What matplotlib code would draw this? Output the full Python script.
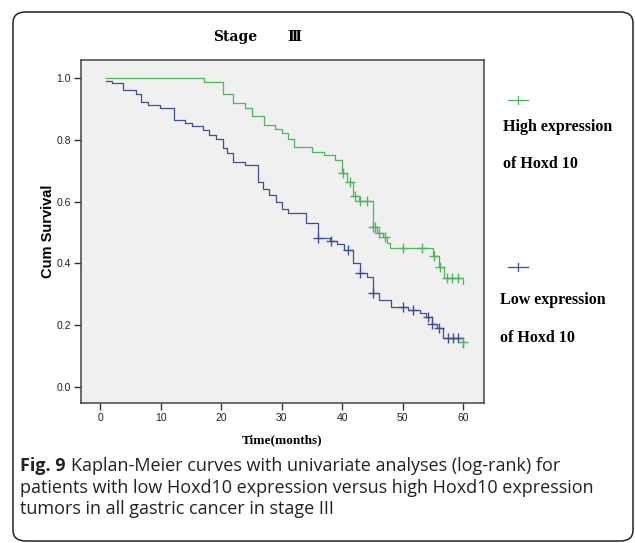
import matplotlib.pyplot as plt
from matplotlib.patches import FancyBboxPatch
from matplotlib.lines import Line2D

# survival steps (time in months, cum survival after the step)
high_time = [1.0, 17.1, 20.2, 22.0, 23.9, 25.1, 27.1, 28.9, 30.0, 31.1, 32.0, 35.0,
             36.9, 38.8, 39.9, 40.8, 41.7, 42.7, 45.0, 45.8, 46.7, 47.4, 47.9, 55.0,
             55.9, 56.8, 60.0]
high_surv = [1.0, 0.988, 0.948, 0.919, 0.903, 0.876, 0.849, 0.836, 0.822, 0.803, 0.776, 0.762,
             0.751, 0.735, 0.692, 0.663, 0.619, 0.603, 0.517, 0.499, 0.484, 0.465, 0.451, 0.425,
             0.389, 0.352, 0.333]
high_censor = [40.1, 41.2, 42.1, 43.0, 44.0, 45.0, 45.4, 46.1, 47.0, 50.1, 53.1, 55.1,
               56.1, 57.3, 58.1, 59.2]

low_time = [1.0, 1.9, 3.8, 5.9, 6.8, 7.9, 9.9, 12.1, 14.0, 15.1, 17.0, 17.9, 19.2, 20.3,
            20.9, 22.0, 23.9, 26.1, 26.9, 27.9, 29.0, 30.0, 31.1, 34.0, 36.0, 38.0, 39.1,
            40.2, 41.8, 43.0, 44.0, 45.0, 46.0, 48.0, 50.9, 52.8, 53.8, 54.8, 55.6, 56.7, 60.0]
low_surv = [0.992, 0.984, 0.962, 0.948, 0.924, 0.913, 0.903, 0.865, 0.854, 0.846, 0.832, 0.816,
            0.803, 0.773, 0.757, 0.728, 0.717, 0.665, 0.641, 0.622, 0.600, 0.575, 0.562, 0.532,
            0.481, 0.473, 0.462, 0.442, 0.402, 0.368, 0.357, 0.303, 0.282, 0.259, 0.249, 0.238,
            0.227, 0.202, 0.189, 0.157, 0.128]
low_censor = [36.0, 38.1, 41.0, 43.0, 45.0, 50.1, 51.7, 54.2, 54.8, 56.0, 57.4, 58.3, 59.2]

# odd green mark sitting on the end of the low curve
extra_mark_t = [60.0]
extra_mark_s = [0.145]

x_ticks = [0, 10, 20, 30, 40, 50, 60]
y_ticks = [0.0, 0.2, 0.4, 0.6, 0.8, 1.0]

green = '#4cb85c'
blue = '#3d4f95'

W, H = 635, 543


def fx(px):
    return px / W


def fy(py):
    return 1 - py / H


def surv_at(times, survs, t):
    s = survs[0]
    for tt, ss in zip(times, survs):
        if tt <= t:
            s = ss
    return s


fig = plt.figure(figsize=(6.35, 5.43), dpi=100)
fig.patch.set_facecolor('white')

# rounded frame around the whole panel
box = FancyBboxPatch((fx(13), fy(541)), fx(633) - fx(13), fy(12) - fy(541),
                     boxstyle='round,pad=0,rounding_size=0.02',
                     transform=fig.transFigure, fill=False, edgecolor='#222222', linewidth=1.1)
fig.add_artist(box)

ax = fig.add_axes([fx(80.7), fy(403.3), fx(484) - fx(80.7), fy(60) - fy(403.3)])
ax.set_facecolor('#f0f0f0')

ax.step(high_time, high_surv, where='post', color=green, lw=0.9)
ax.step(low_time, low_surv, where='post', color=blue, lw=0.9)
ax.plot(high_censor, [surv_at(high_time, high_surv, t) for t in high_censor], '+',
        color=green, ms=7, mew=1.0, ls='none')
ax.plot(low_censor, [surv_at(low_time, low_surv, t) for t in low_censor], '+',
        color=blue, ms=7, mew=1.0, ls='none')
ax.plot(extra_mark_t, extra_mark_s, '+', color=green, ms=7, mew=1.0, ls='none')

ax.set_xlim(-3.24, 63.42)
ax.set_ylim(-0.054, 1.059)
ax.set_xticks(x_ticks)
ax.set_yticks(y_ticks)
ax.set_yticklabels(['%.1f' % v for v in y_ticks])
ax.tick_params(direction='out', length=5, width=1, color='#333333',
               labelsize=7.5, labelcolor='#222222', pad=2)
for lab in ax.get_xticklabels() + ax.get_yticklabels():
    lab.set_family('Liberation Sans')
for sp in ax.spines.values():
    sp.set_color('#444444')
    sp.set_linewidth(1.1)

ax.set_ylabel('Cum Survival', fontsize=10.5, fontweight='bold', family='Liberation Sans',
              labelpad=1)
ax.set_xlabel('Time(months)', fontsize=9.5, fontweight='bold', family='Liberation Serif',
              labelpad=8)

# title
fig.text(fx(235), fy(37), 'Stage', ha='center', va='center', fontsize=10,
         fontweight='bold', family=['DejaVu Serif', 'Noto Sans CJK SC'])
fig.text(fx(294), fy(37), 'Ⅲ', ha='center', va='center', fontsize=10,
         fontweight='bold', family=['DejaVu Serif', 'Noto Sans CJK SC'])

# legend drawn by hand
for cy, col in [(100, green), (267, blue)]:
    fig.add_artist(Line2D([fx(508), fx(528)], [fy(cy), fy(cy)], color=col, lw=0.9,
                          transform=fig.transFigure))
    fig.add_artist(Line2D([fx(518), fx(518)], [fy(cy - 4), fy(cy + 4)], color=col, lw=0.9,
                          transform=fig.transFigure))

leg_font = dict(fontsize=11.5, fontweight='bold', family='Liberation Serif', va='center', ha='left')
fig.text(fx(503), fy(127), 'High expression', **leg_font)
fig.text(fx(503), fy(164), 'of Hoxd 10', **leg_font)
fig.text(fx(500), fy(300), 'Low expression', **leg_font)
fig.text(fx(500), fy(338), 'of Hoxd 10', **leg_font)

# caption
cap = dict(fontsize=13, family='Open Sans', va='center', ha='left', color='#222222')
t1 = fig.text(fx(20), fy(466), 'Fig. 9', fontweight='bold', **cap)
fig.canvas.draw()
bb = t1.get_window_extent()
fig.text(bb.x1 / W + 0.008, fy(466), 'Kaplan-Meier curves with univariate analyses (log-rank) for', **cap)
fig.text(fx(20), fy(488), 'patients with low Hoxd10 expression versus high Hoxd10 expression', **cap)
fig.text(fx(20), fy(509), 'tumors in all gastric cancer in stage III', **cap)

fig.savefig('out.png', dpi=100)
